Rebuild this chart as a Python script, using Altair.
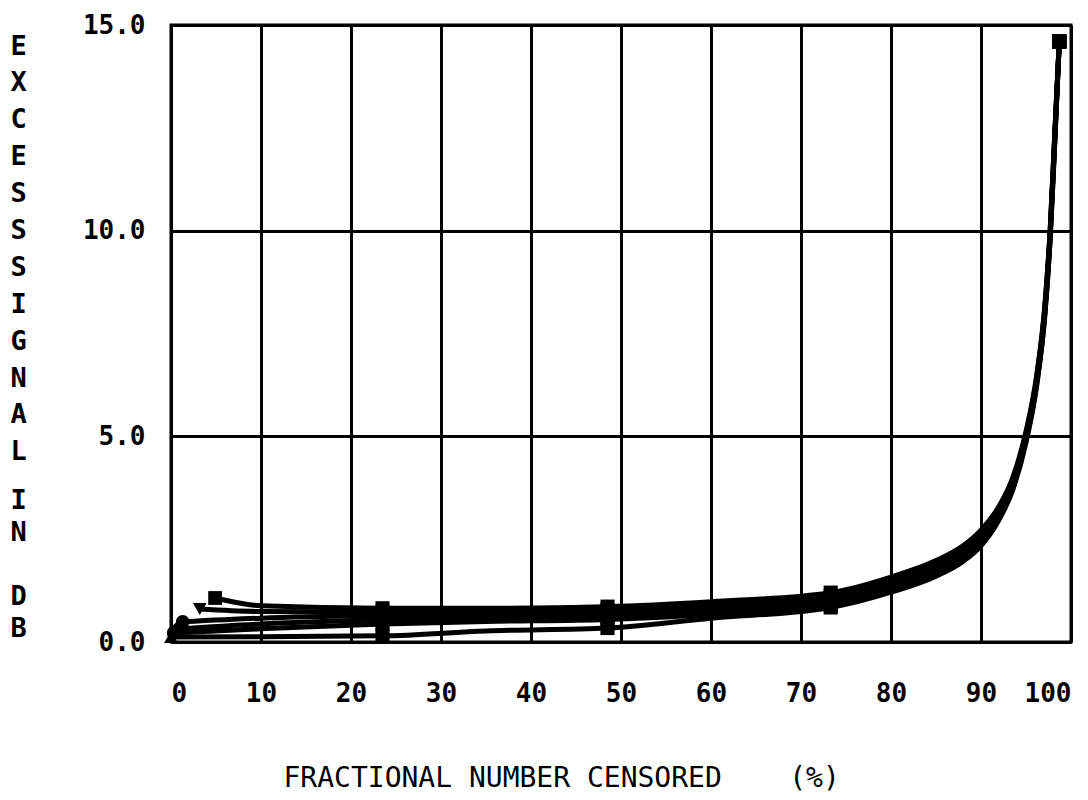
import altair as alt
import pandas as pd

# ---- data ----
SERIES = ["A", "B", "C", "D", "E", "F"]
START_X = [4.9, 3.2, 1.3, 0.6, 0.3, 0.0]
START_Y = [1.07, 0.80, 0.49, 0.32, 0.22, 0.12]

X_PTS = [10, 23.5, 35, 48.5, 60, 73.3, 80, 85, 88, 90, 92, 93.5, 95, 96.2, 97.1, 97.7, 98.2, 98.7]
Y_A = [0.88, 0.82, 0.82, 0.86, 0.98, 1.20, 1.58, 1.98, 2.34, 2.72, 3.30, 3.98, 5.12, 6.50, 8.20, 10.10, 12.40, 14.60]
Y_B = [0.74, 0.73, 0.74, 0.78, 0.90, 1.12, 1.50, 1.90, 2.26, 2.64, 3.23, 3.92, 5.06, 6.45, 8.15, 10.05, 12.35, 14.60]
Y_C = [0.58, 0.64, 0.66, 0.70, 0.82, 1.04, 1.42, 1.82, 2.18, 2.56, 3.16, 3.86, 5.00, 6.40, 8.10, 10.00, 12.30, 14.60]
Y_D = [0.44, 0.54, 0.58, 0.62, 0.74, 0.97, 1.34, 1.74, 2.10, 2.48, 3.09, 3.80, 4.95, 6.35, 8.05, 9.95, 12.25, 14.60]
Y_E = [0.32, 0.44, 0.50, 0.55, 0.67, 0.90, 1.27, 1.67, 2.03, 2.41, 3.03, 3.74, 4.90, 6.30, 8.00, 9.90, 12.20, 14.60]
Y_F = [0.13, 0.15, 0.27, 0.34, 0.58, 0.84, 1.21, 1.60, 1.96, 2.34, 2.97, 3.68, 4.85, 6.25, 7.95, 9.85, 12.15, 14.60]
Y_ALL = [Y_A, Y_B, Y_C, Y_D, Y_E, Y_F]

MARKER_X = [23.5, 48.5, 73.3, 98.7]
START_SHAPES = ["square", "triangle-down", "circle", "diamond", "circle", "triangle-up"]

X_TICKS = [0, 10, 20, 30, 40, 50, 60, 70, 80, 90, 100]
Y_TICKS = [0, 5, 10, 15]

NB = "\u00a0"
X_TITLE = "FRACTIONAL NUMBER CENSORED" + NB * 4 + "(%)"
Y_TITLE_1 = list("EXCESSSIGNAL")   # "EXCESS" + "SIGNAL", stacked letters
Y_TITLE_2 = list("IN")
Y_TITLE_3 = list("DB")

rows = []
for s, sx, sy, ys in zip(SERIES, START_X, START_Y, Y_ALL):
    rows.append(dict(series=s, x=sx, y=sy, order=0, start=True, marker=False))
    for i, (xv, yv) in enumerate(zip(X_PTS, ys)):
        rows.append(dict(series=s, x=xv, y=yv, order=i + 1, start=False, marker=xv in MARKER_X))
df = pd.DataFrame(rows)

MONO = "DejaVu Sans Mono"
Y_SCALE = alt.Scale(domain=[0, 15], nice=False, zero=False)

x_enc = alt.X(
    "x:Q",
    scale=alt.Scale(domain=[0, 100], nice=False, zero=False),
    axis=alt.Axis(
        values=X_TICKS, format="d", grid=True, gridColor="black", gridWidth=3, gridOpacity=1,
        ticks=False, domain=False,
        labelPadding=38, labelFont=MONO, labelFontWeight="bold", labelFontSize=26,
        labelColor="black", labelFlush=True, labelOverlap=False,
        title=X_TITLE, titleFont=MONO, titleFontWeight="normal", titleFontSize=28,
        titleColor="black", titleAlign="left", titleAnchor="start", titleBaseline="top",
        titleX=112, titleY=122,
    ),
)

TITLE_STYLE = dict(
    titleAngle=0, titleFont=MONO, titleFontWeight="bold", titleFontSize=27,
    titleColor="black", titleAlign="center", titleBaseline="top", titleX=-153,
)

y_main = alt.Y(
    "y:Q", scale=Y_SCALE,
    axis=alt.Axis(
        orient="left", values=Y_TICKS, format=".1f", grid=True, gridColor="black",
        gridWidth=3, gridOpacity=1, ticks=False, domain=False,
        labelPadding=26, labelFont=MONO, labelFontWeight="bold", labelFontSize=26,
        labelColor="black", labelFlush=False, labelOverlap=False,
        title=Y_TITLE_1, titleLineHeight=36.9, titleY=8, **TITLE_STYLE,
    ),
)
y_second = alt.Y(
    "y:Q", scale=Y_SCALE,
    axis=alt.Axis(
        orient="left", labels=False, grid=False, ticks=False, domain=False,
        title=Y_TITLE_2, titleLineHeight=32, titleY=462, **TITLE_STYLE,
    ),
)
y_third = alt.Y(
    "y:Q", scale=Y_SCALE,
    axis=alt.Axis(
        orient="left", labels=False, grid=False, ticks=False, domain=False,
        title=Y_TITLE_3, titleLineHeight=32, titleY=558, **TITLE_STYLE,
    ),
)

lines = alt.Chart(df).mark_line(
    interpolate="monotone", strokeWidth=5, color="black"
).encode(x=x_enc, y=y_main, detail="series:N", order="order:Q")

band_markers = alt.Chart(df).transform_filter(alt.datum.marker).mark_point(
    shape="square", filled=True, size=200, color="black", opacity=1
).encode(x="x:Q", y=y_second)

start_markers = alt.Chart(df).transform_filter(alt.datum.start).mark_point(
    filled=True, size=190, color="black", opacity=1
).encode(
    x="x:Q", y=y_third,
    shape=alt.Shape("series:N", scale=alt.Scale(domain=SERIES, range=START_SHAPES), legend=None),
)

chart = alt.layer(lines, band_markers, start_markers).resolve_scale(
    y="independent"
).properties(
    width=900, height=617,
    background="white",
    autosize=alt.AutoSizeParams(type="none"),
    padding={"left": 163, "top": 17, "right": 9, "bottom": 150},
).configure_view(
    stroke="black", strokeWidth=3
)

chart.save("out.html", embed_options={"renderer": "svg", "actions": False})
